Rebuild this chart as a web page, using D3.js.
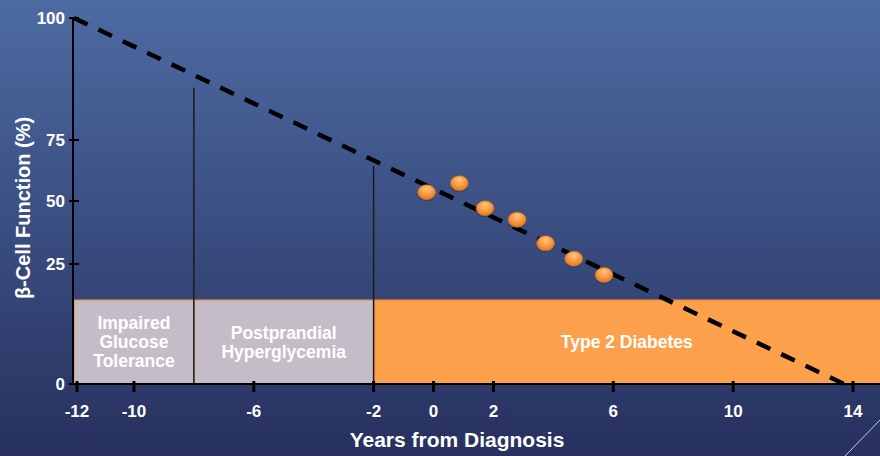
<!DOCTYPE html>
<html>
<head>
<meta charset="utf-8">
<script src="https://cdn.jsdelivr.net/npm/d3@7"></script>
<style>
  html, body { margin: 0; padding: 0; overflow: hidden; }
  body { width: 880px; height: 456px; }
  text { font-family: "Liberation Sans", Arial, sans-serif; font-weight: bold; fill: #fff; }
</style>
</head>
<body>
<div class="chart"></div>
<script>
// Axis ticks
const xTicks = [-12, -10, -6, -2, 0, 2, 6, 10, 14];
const yTicks = [0, 25, 50, 75, 100];

// Stage bands (years from diagnosis) and their labels
const stageStart = [-12, -8, -2];
const stageEnd = [-8, -2, 15];
const stageLabels = [["Impaired", "Glucose", "Tolerance"], ["Postprandial", "Hyperglycemia"], ["Type 2 Diabetes"]];
const stageTop = 17.5;

// Vertical markers at stage boundaries
const markerYears = [-8, -2];
const markerTops = [85.7, 64.3];

// Projected decline of beta-cell function
const trendYears = [-12, 13.7];
const trendValues = [100, 0];

// Observed points
const obsYears = [-0.23, 0.86, 1.72, 2.79, 3.74, 4.68, 5.69];
const obsValues = [53.6, 57.3, 47.1, 42.6, 33.2, 27.1, 22.7];

const width = 880, height = 456;

const svg = d3.select(".chart")
  .append("svg")
  .attr("width", width)
  .attr("height", height);

const defs = svg.append("defs");

// Background gradient
const bg = defs.append("linearGradient")
  .attr("id", "bg")
  .attr("x1", "0%").attr("y1", "0%")
  .attr("x2", "0%").attr("y2", "100%");
bg.append("stop").attr("offset", "0%").attr("stop-color", "#4d6ba3");
bg.append("stop").attr("offset", "100%").attr("stop-color", "#27305e");

// Glossy orange dot
const dotGrad = defs.append("radialGradient")
  .attr("id", "dot")
  .attr("cx", "50%").attr("cy", "40%").attr("r", "60%")
  .attr("fx", "50%").attr("fy", "25%");
dotGrad.append("stop").attr("offset", "0%").attr("stop-color", "#ffc98a");
dotGrad.append("stop").attr("offset", "50%").attr("stop-color", "#fba047");
dotGrad.append("stop").attr("offset", "100%").attr("stop-color", "#dc7826");

svg.append("rect")
  .attr("width", width)
  .attr("height", height)
  .attr("fill", "url(#bg)");

// Scales: the y axis of the original is not evenly spaced
const x = d3.scaleLinear()
  .domain([-12, 14])
  .range([74, 853]);

const y = d3.scaleLinear()
  .domain(yTicks)
  .range([384, 264, 201, 140, 18]);

// Stage bands
const bands = svg.append("g");
stageStart.forEach((s, i) => {
  const x0 = x(s), x1 = Math.min(x(stageEnd[i]), width + 2);
  bands.append("rect")
    .attr("x", x0)
    .attr("y", y(stageTop))
    .attr("width", x1 - x0)
    .attr("height", y(0) - y(stageTop))
    .attr("fill", i < 2 ? "#c4bdc7" : "#fda04b")
    .attr("stroke", "#ec8a3c")
    .attr("stroke-width", 1.2);

  const lines = stageLabels[i];
  const cx = (x0 + Math.min(x1, width)) / 2;
  const cy = (y(stageTop) + y(0)) / 2;
  bands.append("text")
    .attr("text-anchor", "middle")
    .attr("font-size", 17.5)
    .selectAll("tspan")
    .data(lines)
    .join("tspan")
    .attr("x", cx)
    .attr("y", (d, j) => cy + 6 + (j - (lines.length - 1) / 2) * 19)
    .text(d => d);
});

// Stage boundary markers
svg.append("g")
  .selectAll("line")
  .data(markerYears)
  .join("line")
  .attr("x1", d => x(d))
  .attr("x2", d => x(d))
  .attr("y1", (d, i) => y(markerTops[i]))
  .attr("y2", y(0))
  .attr("stroke", "#1e1a1a")
  .attr("stroke-width", 1.5);

// Axes
const axes = svg.append("g").attr("stroke", "#000");
axes.append("line")
  .attr("x1", x(-12) - 1).attr("x2", width)
  .attr("y1", y(0)).attr("y2", y(0))
  .attr("stroke-width", 2);
axes.append("line")
  .attr("x1", x(-12) - 1).attr("x2", x(-12) - 1)
  .attr("y1", y(100)).attr("y2", y(0))
  .attr("stroke-width", 2);
axes.selectAll(".xt")
  .data(xTicks)
  .join("line")
  .attr("class", "xt")
  .attr("x1", d => x(d) + (d === -12 ? 3 : 0))
  .attr("x2", d => x(d) + (d === -12 ? 3 : 0))
  .attr("y1", y(0) - 3)
  .attr("y2", y(0) + 8)
  .attr("stroke-width", 3);
axes.selectAll(".yt")
  .data(yTicks)
  .join("line")
  .attr("class", "yt")
  .attr("x1", x(-12) - 5)
  .attr("x2", x(-12) + 5)
  .attr("y1", d => y(d))
  .attr("y2", d => y(d))
  .attr("stroke-width", 2);

// Tick labels
svg.append("g")
  .selectAll("text")
  .data(xTicks)
  .join("text")
  .attr("x", d => x(d) + (d === -12 ? 3 : 0))
  .attr("y", 417)
  .attr("text-anchor", "middle")
  .attr("font-size", 17)
  .text(d => d);

svg.append("g")
  .selectAll("text")
  .data(yTicks)
  .join("text")
  .attr("x", x(-12) - 9)
  .attr("y", d => y(d) + 6)
  .attr("text-anchor", "end")
  .attr("font-size", 17)
  .text(d => d);

// Axis titles
svg.append("text")
  .attr("x", 457)
  .attr("y", 447)
  .attr("text-anchor", "middle")
  .attr("font-size", 21)
  .text("Years from Diagnosis");

svg.append("text")
  .attr("transform", "translate(30,208) rotate(-90)")
  .attr("text-anchor", "middle")
  .attr("font-size", 20)
  .text("β-Cell Function (%)");

// Trend line
const line = d3.line()
  .x((d, i) => x(trendYears[i]))
  .y(d => y(d));

svg.append("path")
  .datum(trendValues)
  .attr("fill", "none")
  .attr("stroke", "#000")
  .attr("stroke-width", 4.5)
  .attr("stroke-dasharray", "15,12")
  .attr("d", line);

// Observed points
const dots = svg.append("g")
  .selectAll("g")
  .data(obsValues)
  .join("g")
  .attr("transform", (d, i) => `translate(${x(obsYears[i])},${y(d)})`);
dots.append("ellipse")
  .attr("cy", 2)
  .attr("rx", 9)
  .attr("ry", 7)
  .attr("fill", "#1c2340")
  .attr("opacity", 0.35);
dots.append("ellipse")
  .attr("rx", 9)
  .attr("ry", 7.5)
  .attr("fill", "url(#dot)")
  .attr("stroke", "#c9691d")
  .attr("stroke-width", 0.6);

// Corner decoration
svg.append("line")
  .attr("x1", 845).attr("y1", height)
  .attr("x2", width).attr("y2", 420)
  .attr("stroke", "#c8d0e8")
  .attr("stroke-width", 1);
</script>
</body>
</html>
